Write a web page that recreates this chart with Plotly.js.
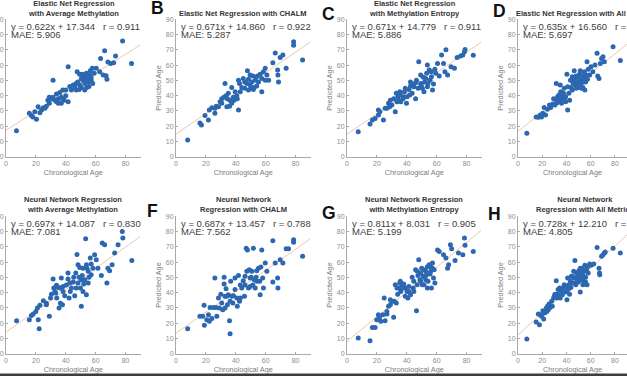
<!DOCTYPE html>
<html><head><meta charset="utf-8">
<script src="https://cdn.plot.ly/plotly-3.0.1.min.js"></script>
<style>html,body{margin:0;padding:0;background:#fff}#chart{width:627px;height:376px}</style>
</head><body><div id="chart"></div>
<script>
// ---------- data ----------
const panelLetters = ["A","B","C","D","E","F","G","H"];
const panelTitles = [
  "Elastic Net Regression<br>with Average Methylation",
  "Elastic Net Regression with CHALM",
  "Elastic Net Regression<br>with Methylation Entropy",
  "Elastic Net Regression with All Metrics",
  "Neural Network Regression<br>with Average Methylation",
  "Neural Network<br>Regression with CHALM",
  "Neural Network Regression<br>with Methylation Entropy",
  "Neural Network<br>Regression with All Metrics"
];
const fitSlope     = [0.622, 0.671, 0.671, 0.635, 0.697, 0.687, 0.811, 0.728];
const fitIntercept = [17.344, 14.860, 14.779, 16.560, 14.087, 13.457, 8.031, 12.210];
const fitR         = ["0.911", "0.922", "0.911", "0.924", "0.830", "0.788", "0.905", "0.930"];
const fitMAE       = ["5.906", "5.287", "5.886", "5.697", "7.081", "7.562", "5.199", "4.805"];
const xTickVals = [0, 20, 40, 60, 80];
const yTickVals = [0, 10, 20, 30, 40, 50, 60, 70, 80, 90];
const xLabel = "Chronological Age";
const yLabel = "Predicted Age";

const ageA = [7,15.6,17,18,20.4,19.3,21.5,23.8,25,27,29,30.4,31.5,32.7,33.8,35,36,37,38,39,41.6,40,31.5,41.6,42.7,43.8,45,46,47,48,47.6,49.3,49.3,50.4,51.5,52.7,53.3,53.8,55,55.5,56,56.4,57,57.8,58,60.4,51.5,50.4,54,55.5,59,63.3,66,68.2,70,72,73.3,67,67.5,78,84,37,35,29,28,33.8,38,40,47,49,52.7,62.7,65,57,54,51,22.7,26];
const predA = [17,28.4,27,26,24.5,29.5,32.7,30.6,32,33,35,38,39,37,41,38,42,39,43.7,37,36,40,50,59,46,43.7,47,45.4,48,49,55.7,54,47,45.4,50,48,52,54.6,49,51,53.5,56.3,50,58,48,58,53,51,45.4,46,54.6,64.4,69.4,62,61,61.5,66,53,50.7,75.8,61,35,35,39,37,36,38,43.7,43.7,44,43.7,55.7,53.5,52,50.7,54,28.8,31.7];

const ageB = [7.8,16,17,19.4,21.7,22.3,24,26,27,29.5,30.6,32,32.8,33.5,34.4,35,35.8,36,37.3,38.4,39.6,41,41.8,41.8,42.5,44,46,47.4,47.8,48.5,49.6,50.7,51.4,52.3,53,53.6,54.5,55.2,56.3,57.4,58.5,59.7,57.4,59.7,60.8,64.8,66.4,68,68.2,68.6,69.7,71.5,73.7,78.7,78.7,84.7,49.6,50.3,51.8,54,43,46,34,37.3,38.9,40.7,28.4,30.6,26,45,48.5,62];
const predB = [11,22,20.7,27,24,30.6,32,31.7,33,36,38,39,48,40,38,41.5,33,37,45.4,39,42.6,38,30.6,50,48,45.4,49,48,56.3,50.7,47,49,52.8,45.4,50,52,52.8,49,54,51.3,55.7,57.9,42.6,50,53.5,61.6,68,56.8,53.5,49,65,66.6,57.9,75.3,73,63.3,53.5,45.4,44,46.3,42.6,44.8,32.8,35,37,40,32.8,35,28.4,51.3,43.7,50];

const ageC = [7.5,15.4,17,18.8,21,21,22,24.4,25.5,27.8,29,30,32.3,31.2,33,34,34.6,35.7,36,37.5,38.4,39.8,40.2,41.4,42.5,43.6,44.7,45.9,46.5,47.5,48,49.3,49.7,51,51.5,52,53.3,53.8,55,55.6,56.5,57.2,57.9,58.8,60.6,61.7,63.3,64.6,65.5,67.3,69.6,66.2,71.9,73.7,76,77.5,78.6,79,49.3,50.4,52.7,45.9,42,38,35.3,33.4,39,42.5,44.3,54.2,56.3,59.4,28.5,26.7,53.8,84.5];
const predC = [16.4,21.4,24,25,27.3,30.6,29.5,24,31.7,35,37,33.8,29.5,38,41.5,39.3,37,40.4,36,38,42.6,35,39.3,44,49,41.5,45.8,38,50,44.8,62.2,53.5,47,52,42.6,49,54.6,45.8,56.8,50,52.4,43.7,47.6,57.2,61,52.8,66.6,61,55.7,53.5,59,70,57.9,65,66,66.6,68.8,70.3,48,44.8,51.3,48.5,40.4,39.3,42.6,36,44.8,46.3,47,48,55.7,54.6,32.8,31.7,60,66.5];

const ageD = [7.3,15,16.8,18.3,19.4,20.5,21.6,22.7,24.3,26,27,28.7,30.5,31.6,31.6,32.7,33.8,34.9,35.3,36.6,37.5,38.2,39.3,40.4,41,41,42,43.3,43.7,44.8,45.5,46.4,47,47.7,48.6,49.2,49.9,50.8,51.4,52,53,53.6,54.3,54.7,55.8,56.5,57,57.4,58,59.2,60.3,61.8,63.6,65.3,65.8,66.9,68,69,70.2,71.3,46,48,50.3,52.5,53.6,55.2,42.6,39.3,36,38.2,32.2,29.4,34.9,44.8,48,51.4,78.5,84.5];
const predD = [15.3,26,25.8,27.3,26,28.4,32.3,27.3,31,33.8,32.3,34.5,33.8,48,37,39.3,40.4,37,42.6,39.3,41.5,44.8,39.3,54,30.6,45.8,41.5,50,45.4,43.7,48,56.3,50,46.3,49,52,47,54,50,48,52.8,45.4,51.3,55.7,49,53.5,62.2,50.7,57.2,53.5,59,55.7,60,67.7,52.8,51.3,61,64.4,65.5,62.2,50,44.8,45.4,44.8,49,43.7,37,36,35,38,35.4,38,47,52.4,52.8,56.3,72,63];

const ageE = [7.1,15.6,17,18.2,20,21.6,22.2,21,22.7,25,27,29,29.8,30.4,31.5,32,32.7,33.8,34,35,35.5,36,36.4,37,37.8,38.2,39.3,40.4,41.5,42.2,43,43.8,45,45.3,46,46.7,47.5,48.2,48.9,49.3,49.8,50.4,51,51.5,52,52.7,53.3,53.8,54.2,55,55.5,56.4,57,58.2,59.3,60.4,61.5,63.8,64.4,66,67.5,68.2,69.3,71,72.7,75,77.8,78.2,84.2,41.5,42.7,47,51.5,50.4,38.2,37,33.3,27,55,57,53.8,48.2];
const predE = [21.6,22.3,25,26,27.7,22.3,16.4,30,31.7,34.7,33,24.5,36.5,39,49,43,40.8,44.8,36.5,43.4,30,43,33,49.6,32,40.8,38,45,49,36.5,40.8,43,47,50,38,52.8,65,46.3,50,56.5,43,31,51.3,56,45.6,48.5,75.3,38.6,56,46.3,50,62.7,58.7,56,64.8,61.6,56,51.3,72.5,71.4,46.3,56,54.4,58.3,66,71.4,80,75.8,61,52.8,46.3,43,40.8,48.5,44,43,39.7,32,54,51.7,58.3,58.3];

const ageF = [7.8,16,17.9,18.8,19,20.6,21.7,22.3,22.8,24,25,26,26.8,28.4,29,30,30.6,31.3,32.2,32.2,32.8,33.5,34,34.4,35,35.8,36.2,36.6,37.3,38.4,39.5,40.7,41,41.8,42.5,43,44,45,45.8,46.2,47,47.4,47.8,48.5,49,49.6,50.3,50.7,51.4,51.8,52.3,53,53.6,54,55.2,56,56.3,56.8,57.4,58,58.5,59.7,60.8,64.8,64.8,66.4,68,68.2,69.7,71.5,73.7,75.3,78.7,78.7,84.7,39.5,43,46.2,49.6,54,36.2,38,32.8,27.3];
const predF = [16.4,24.5,24.5,31.7,18.6,22.3,25.5,21.2,30.3,23,30.3,49.6,30.3,36.5,30,39,33.2,28.8,50,45.6,37.6,42.6,37.6,32,38.6,21.6,13,47.4,37.6,38,42,36.5,31,51.3,34.3,45,43,47.8,37.6,45,69,54,68,43,55,44,50,54,45,69,48.5,43,50,54.4,56,47.4,38.6,56.8,68,49.6,43,59.4,54,47,74,59.4,49.6,43,61.6,59.4,68.8,68.8,74.7,73,63.8,49.6,36.5,50.7,49.6,47.4,34.3,33.2,30,24.5];

const ageG = [7.5,15.4,17,18.8,19.9,21,21.7,22.6,24,24.9,25.5,26.7,27.8,29,30,31.2,31.6,32.3,33,33.9,34.6,35.3,36,36.8,37.5,38,39,40.2,40.7,41.4,42.5,43.6,44.3,44.7,45.9,46.5,47,47.5,48,48.8,49.3,50,50.4,51,51.5,52,52.7,53.3,53.8,54.2,55,55.6,56,56.5,57.2,57.9,58.3,58.8,60.6,61.7,64.6,66.2,67.3,68,69.2,70,72.3,74.6,77.5,78.6,79,49.3,51.5,53.8,39,35.7,33.4,41.4,44.7,29,47,52.7,56,57.2,26.7,84.5];
const predG = [10.3,8.5,17.2,17.2,22.3,25.5,23.4,21.2,25.5,36.5,21.6,26,31,32,34.3,23.8,34.3,45.2,33.2,39,43,46.3,40.8,44,43,45.6,37.6,40.8,36.5,44,38.6,50,43,47.4,55,28.2,45.2,51.3,61.6,48.5,52.8,56,45.2,50.7,55,50,48.5,51.7,57,47.4,58.3,52.2,57,43,56,49.6,55,46.3,68,67,64.8,62.7,56,58.3,71.4,68.8,61,66,64.8,75.8,71,47.4,45.2,43,43,47.4,43,40.8,40.8,35.4,54,54,54,59.4,27.7,67];

const ageH = [7.3,15,16.8,17.7,18.3,19.4,20.5,21.2,22,23.4,24.3,25.6,26.5,27.8,29.4,30.5,31.6,32.2,32.7,33.1,33.8,34.4,34.9,36,36.6,37.5,38.2,39.3,40.4,41,41.5,42,42.6,43.3,43.7,44.8,45.5,46.4,47,47.7,48.1,48.6,49.2,49.9,50.3,50.8,51.4,52,52.5,53,53.6,54.3,54.7,55.2,55.8,56.5,57,57.4,58,59.2,60.3,62.5,65.3,66.9,67.3,67.5,69,70.2,71.3,72,46,48,44.1,39.3,36.6,34.9,30,53.6,55.8,51.4,28.3,25,23.8,78.5,84.5];
const predH = [9.6,20.7,26,19,25.5,24.5,28.2,22.7,26.6,30,31,32.5,30.3,34.3,36.5,39,47.8,36.5,39,42,38,43,36.5,40.8,38.6,43,45.2,40.4,35.4,49.6,42,45.2,39,47.4,43.4,50.7,46.3,49.6,61,45.2,53,49,51.7,47,54.4,50.7,40.4,53.5,48.5,56,51.3,47.4,54,57.9,50,55,45.2,57,52.8,58.7,57.9,58.7,69.6,56,52.8,51.7,63.8,64.8,66,66.6,54,46.3,50.7,44,43,42,37.6,45.2,47,56,31,28.8,27.7,69,66];

const ages  = [ageA, ageB, ageC, ageD, ageE, ageF, ageG, ageH];
const preds = [predA, predB, predC, predD, predE, predF, predG, predH];

// ---------- layout geometry (pixels) ----------
const W = 627, H = 376;
const colX0 = [6, 176, 347, 518];
const plotW = 134.5;
const rowTop = [19.3, 216.3], rowBot = [156.7, 353.7];
const titleY = [[8.3, 13.3], [204.7, 204.7]]; // [two-line, single-line]
const letterPos = {B:[157.5,7.8], C:[328.5,13.5], D:[499.5,11.2], F:[152,210.8], G:[328.5,212.5], H:[494.5,213.8]};
const px = x => x / W, py = y => 1 - y / H;

const FONT = "Liberation Sans, Arial, sans-serif";
const traces = [], annotations = [];
const layout = {
  width: W, height: H, margin: {l:0, r:0, t:0, b:0},
  paper_bgcolor: "#ffffff", plot_bgcolor: "#ffffff",
  showlegend: false, font: {family: FONT},
  annotations: annotations,
  shapes: [{type:"rect", xref:"paper", yref:"paper", x0:0, x1:1, y0:0, y1:2.6/H,
            fillcolor:"#3e3e3e", line:{width:0}, layer:"above"}]
};

for (let i = 0; i < 8; i++) {
  const r = Math.floor(i / 4), c = i % 4;
  const sfx = i === 0 ? "" : String(i + 1);
  const x0 = colX0[c];
  layout["xaxis" + sfx] = {
    domain: [px(x0), px(x0 + plotW)], anchor: "y" + sfx, range: [0, 90],
    tickvals: xTickVals, ticktext: xTickVals.map(String),
    showline: true, linecolor: "#a9a9a9", linewidth: 1, mirror: false,
    ticks: "inside", ticklen: 2, tickcolor: "#a9a9a9",
    showgrid: false, zeroline: false,
    tickfont: {size: 7, color: "#8c8c8c", family: FONT},
    title: {text: xLabel, font: {size: 7.3, color: "#7c7c7c", family: FONT}, standoff: 3}
  };
  // the left column's y-axis titles fall outside the cropped figure in the reference
  layout["yaxis" + sfx] = {
    domain: [py(rowBot[r]), py(rowTop[r])], anchor: "x" + sfx, range: [0, 90],
    tickvals: yTickVals, ticktext: yTickVals.map(String),
    showline: true, linecolor: "#a9a9a9", linewidth: 1, mirror: false,
    ticks: "inside", ticklen: 2, tickcolor: "#a9a9a9",
    showgrid: false, zeroline: false,
    tickfont: {size: 7, color: "#8c8c8c", family: FONT},
    title: {text: c === 0 ? "" : yLabel, font: {size: 7.3, color: "#7c7c7c", family: FONT}, standoff: 3}
  };
  // regression line from the fit parameters
  traces.push({
    type: "scatter", mode: "lines", xaxis: "x" + sfx, yaxis: "y" + sfx,
    x: [0, 90], y: [fitIntercept[i], fitSlope[i] * 90 + fitIntercept[i]],
    line: {color: "rgba(232,180,145,0.75)", width: 1}, hoverinfo: "skip"
  });
  traces.push({
    type: "scatter", mode: "markers", xaxis: "x" + sfx, yaxis: "y" + sfx,
    x: ages[i], y: preds[i],
    marker: {size: 5, color: "#2c67b1", line: {width: 0}}
  });
  // panel title
  const twoLine = panelTitles[i].indexOf("<br>") >= 0;
  annotations.push({
    xref: "paper", yref: "paper", x: px(x0 + plotW / 2), y: py(twoLine ? titleY[r][0] : titleY[r][1]),
    xanchor: "center", yanchor: "middle", showarrow: false, text: "<b>" + panelTitles[i] + "</b>",
    font: {size: 7.5, color: "#333333", family: FONT}
  });
  // equation and MAE
  const nb = "\u00a0";
  annotations.push({
    xref: "paper", yref: "paper", x: px(x0 + 3), y: py(rowTop[r] + 7.6),
    xanchor: "left", yanchor: "middle", showarrow: false,
    text: "y" + nb + "=" + nb + fitSlope[i].toFixed(3) + "x" + nb + "+" + nb + fitIntercept[i].toFixed(3) + nb + nb + nb + "r" + nb + "=" + nb + fitR[i],
    font: {size: 9.5, color: "#404040", family: FONT}
  });
  annotations.push({
    xref: "paper", yref: "paper", x: px(x0 + 3), y: py(rowTop[r] + 14.8),
    xanchor: "left", yanchor: "middle", showarrow: false,
    text: "MAE:" + nb + fitMAE[i],
    font: {size: 9.5, color: "#404040", family: FONT}
  });
  // panel letter
  const L = panelLetters[i];
  if (letterPos[L]) {
    annotations.push({
      xref: "paper", yref: "paper", x: px(letterPos[L][0]), y: py(letterPos[L][1]),
      xanchor: "center", yanchor: "middle", showarrow: false, text: "<b>" + L + "</b>",
      font: {size: 17.5, color: "#111111", family: FONT}
    });
  }
}

Plotly.newPlot("chart", traces, layout, {displayModeBar: false, staticPlot: true});
</script></body></html>
